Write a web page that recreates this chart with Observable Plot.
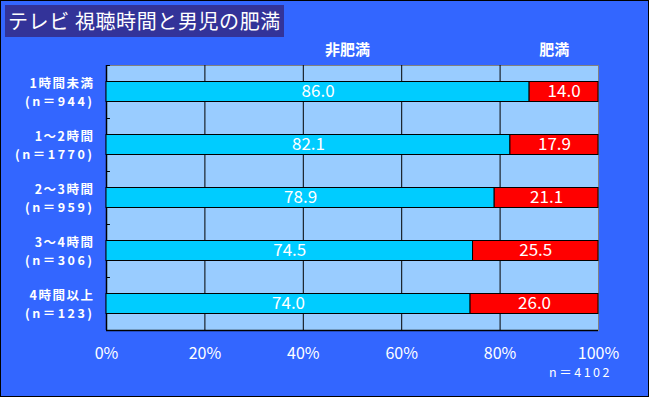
<!DOCTYPE html>
<html><head><meta charset="utf-8">
<script src="https://cdn.jsdelivr.net/npm/d3@7"></script>
<script src="https://cdn.jsdelivr.net/npm/@observablehq/plot@0.6"></script>
<style>
html,body{margin:0;padding:0;background:#3366FF;}
#wrap{position:relative;width:649px;height:397px;overflow:hidden;background:#3366FF;font-family:"Noto Sans CJK JP","Noto Sans",sans-serif;}
#border{position:absolute;left:0;top:0;width:649px;height:397px;box-sizing:border-box;border:1px solid #000;pointer-events:none;}
#title{position:absolute;left:5px;top:5px;width:279px;height:32px;background:#333399;color:#fff;font-size:20px;line-height:32px;white-space:nowrap;padding-left:3px;box-sizing:border-box;letter-spacing:0.6px;}
#chart svg{display:block;}
</style></head>
<body>
<div id="wrap"><div id="chart"></div><div id="title">テレビ 視聴時間と男児の肥満</div><div id="border"></div></div>
<script>
const categories = ["1時間未満","1～2時間","2～3時間","3～4時間","4時間以上"];
const sampleSizes = ["(n＝944)","(n＝1770)","(n＝959)","(n＝306)","(n＝123)"];
const seriesNames = ["非肥満","肥満"];
const nonObese = [86.0, 82.1, 78.9, 74.5, 74.0];
const obese = [14.0, 17.9, 21.1, 25.5, 26.0];
const xTicks = [0, 20, 40, 60, 80, 100];
const gridTicks = [20, 40, 60, 80];
const totalN = "n＝4102";
const colors = ["#00CCFF", "#FF0000"];

const rows = [];
categories.forEach((c, i) => {
  rows.push({cat: c, series: seriesNames[0], x1: 0, x2: nonObese[i], v: nonObese[i]});
  rows.push({cat: c, series: seriesNames[1], x1: nonObese[i], x2: nonObese[i] + obese[i], v: obese[i]});
});
const catRows = categories.map((c, i) => ({cat: c, n: sampleSizes[i]}));
const band = (330 - 65) / categories.length;

const plot = Plot.plot({
  width: 649, height: 397,
  marginLeft: 106, marginRight: 51, marginTop: 65, marginBottom: 67,
  style: {background: "transparent", fontFamily: '"Noto Sans CJK JP","Noto Sans",sans-serif'},
  x: {domain: [0, 100], axis: null},
  y: {domain: categories, type: "band", padding: 0, axis: null},
  color: {domain: seriesNames, range: colors},
  marks: [
    Plot.frame({fill: "#99CCFF", stroke: "#808080"}),
    Plot.ruleX(gridTicks, {stroke: "#000", strokeWidth: 1}),
    Plot.ruleX([0], {stroke: "#000", strokeWidth: 1.5}),
    Plot.ruleY([categories[categories.length - 1]], {x1: 0, x2: 100, dy: band / 2, stroke: "#000", strokeWidth: 1.5}),
    Plot.ruleY(categories, {x1: 0, x2: 0.8, dy: -band / 2, stroke: "#000"}),
    Plot.barX(rows, {x1: "x1", x2: "x2", y: "cat", fill: "series", stroke: "#000", strokeWidth: 1, insetTop: 16.5, insetBottom: 16.5}),
    Plot.text(rows, {x: d => (d.x1 + d.x2) / 2, y: "cat", text: d => d.v.toFixed(1), fill: "#fff", fontSize: 17, ariaDescription: "values"}),
    Plot.text(catRows, {x: 0, y: "cat", text: "cat", dx: -12, dy: -8.5, textAnchor: "end", fill: "#fff", fontSize: 12.5, fontWeight: "bold", ariaDescription: "ylab1"}),
    Plot.text(catRows, {x: 0, y: "cat", text: "n", dx: -12, dy: 9.5, textAnchor: "end", fill: "#fff", fontSize: 12.5, fontWeight: "bold", ariaDescription: "ylab2"}),
    Plot.text(xTicks, {x: d => d, frameAnchor: "bottom", dy: 28, text: d => d + "%", fill: "#fff", fontSize: 16}),
    Plot.text([totalN], {x: 100, frameAnchor: "bottom", dy: 46, dx: -18, text: d => d, fill: "#fff", fontSize: 12.5, ariaDescription: "total"}),
    Plot.text(seriesNames, {x: (d, i) => i === 0 ? 49 : 91, frameAnchor: "top", dy: -21, text: d => d, fill: "#fff", fontSize: 15, fontWeight: "bold"})
  ]
});
d3.select(plot).selectAll("g[aria-description=ylab1] text").attr("letter-spacing", "1.5px");
d3.select(plot).selectAll("g[aria-description=ylab2] text").attr("letter-spacing", "2.5px");
d3.select(plot).selectAll("g[aria-description=total] text").attr("letter-spacing", "2.5px");
document.getElementById("chart").appendChild(plot);
</script>
</body></html>
